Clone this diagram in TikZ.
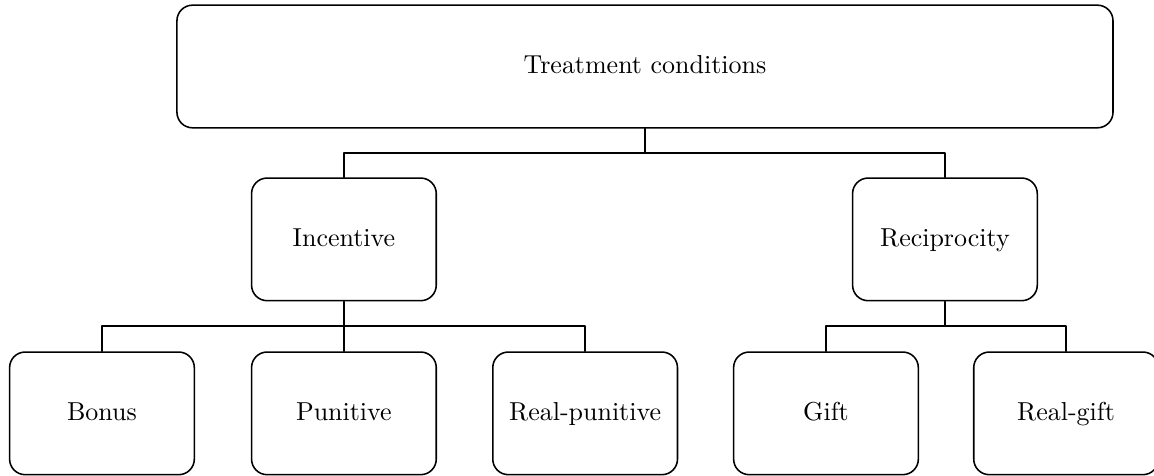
\documentclass[tikz,border=0pt]{standalone}
\usetikzlibrary{positioning}
\begin{document}
\begin{tikzpicture}[line cap=round,line join=round,x=1cm,y=1cm,
  box/.style={draw,semithick,rounded corners=6pt,minimum width=2.5cm,minimum height=1.66cm,align=center,text height=1.5ex,text depth=.25ex},
  link/.style={semithick}]
\useasboundingbox (0,0) rectangle (15.62,-6.44);
\node[box,minimum width=12.67cm] (treat) at (8.73,-0.9) {Treatment conditions};
\node[box] (incent) at (4.655,-3.24) {Incentive};
\node[box] (recip) at (12.79,-3.24) {Reciprocity};
\node[box] (bonus) at (1.38,-5.595) {Bonus};
\node[box] (punit) at (4.655,-5.595) {Punitive};
\node[box] (realpun) at (7.92,-5.595) {Real-punitive};
\node[box] (gift) at (11.18,-5.595) {Gift};
\node[box] (realgift) at (14.43,-5.595) {Real-gift};
\coordinate (split) at (8.73,-2.07);
\coordinate (splitL) at (4.655,-4.41);
\coordinate (splitR) at (12.79,-4.41);
\draw [link] (treat.south) -- (split) -| (incent.north);
\draw [link] (split) -| (recip.north);
\draw [link] (incent.south) -- (splitL) -| (bonus.north);
\draw [link] (splitL) -- (punit.north);
\draw [link] (splitL) -| (realpun.north);
\draw [link] (recip.south) -- (splitR) -| (gift.north);
\draw [link] (splitR) -| (realgift.north);
\end{tikzpicture}
\end{document}
